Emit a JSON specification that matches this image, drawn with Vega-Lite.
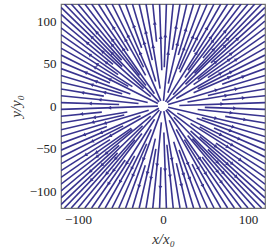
{
"$schema": "https://vega.github.io/schema/vega-lite/v6.json",
"width": 204, "height": 204,
"autosize": {"type": "none"},
"padding": {"left": 61, "top": 4, "right": 5, "bottom": 42},
"config": {"view": {"stroke": "#707070", "strokeWidth": 1.2}, "font": "Liberation Serif",
 "axis": {"grid": false, "domain": false, "ticks": false, "labelFont": "Liberation Serif", "labelFontSize": 13, "labelColor": "#222", "titleFont": "Liberation Serif", "titleFontSize": 15, "titleFontWeight": "normal", "titleFontStyle": "italic", "titleColor": "#333", "labelPadding": 5}},
"data": {"values": [
{"x":-4.6,"y":4.8,"x2":-116,"y2":120,"ax":-60.3,"ay":62.4},
{"x":-48.6,"y":54,"x2":-108,"y2":120,"ax":-78.3,"ay":87},
{"x":-20,"y":24,"x2":-100,"y2":120,"ax":-60,"ay":72},
{"x":-27.6,"y":36,"x2":-92,"y2":120,"ax":-59.8,"ay":78},
{"x":-10.1,"y":14.4,"x2":-84,"y2":120,"ax":-47,"ay":67.2},
{"x":-41,"y":64.8,"x2":-76,"y2":120,"ax":-58.5,"ay":92.4},
{"x":-20.4,"y":36,"x2":-68,"y2":120,"ax":-44.2,"ay":78},
{"x":-22.8,"y":45.6,"x2":-60,"y2":120,"ax":-41.4,"ay":82.8},
{"x":-2.6,"y":6,"x2":-52,"y2":120,"ax":-27,"ay":62.4},
{"x":-25.1,"y":68.4,"x2":-44,"y2":120,"ax":-34.5,"ay":94.2},
{"x":-8.6,"y":28.8,"x2":-36,"y2":120,"ax":-22.3,"ay":74.4},
{"x":-12.6,"y":54,"x2":-28,"y2":120,"ax":-20.3,"ay":87},
{"x":-3.4,"y":20.4,"x2":-20,"y2":120,"ax":-11.7,"ay":70.2},
{"x":-7.6,"y":75.6,"x2":-12,"y2":120,"ax":-9.8,"ay":97.8},
{"x":-1.4,"y":42,"x2":-4,"y2":120,"ax":-2.7,"ay":81},
{"x":1.5,"y":45.6,"x2":4,"y2":120,"ax":2.8,"ay":82.8},
{"x":0.6,"y":6,"x2":12,"y2":120,"ax":6.2,"ay":62.4},
{"x":11,"y":66,"x2":20,"y2":120,"ax":15.5,"ay":93},
{"x":6.2,"y":26.4,"x2":28,"y2":120,"ax":17.1,"ay":73.2},
{"x":18,"y":60,"x2":36,"y2":120,"ax":27,"ay":90},
{"x":5.7,"y":15.6,"x2":44,"y2":120,"ax":24.9,"ay":67.8},
{"x":18.7,"y":43.2,"x2":52,"y2":120,"ax":35.4,"ay":81.6},
{"x":19.8,"y":39.6,"x2":60,"y2":120,"ax":39.9,"ay":79.8},
{"x":36,"y":63.6,"x2":68,"y2":120,"ax":52,"ay":91.8},
{"x":3,"y":4.8,"x2":76,"y2":120,"ax":39.5,"ay":62.4},
{"x":29.4,"y":42,"x2":84,"y2":120,"ax":56.7,"ay":81},
{"x":25.8,"y":33.6,"x2":92,"y2":120,"ax":58.9,"ay":76.8},
{"x":47,"y":56.4,"x2":100,"y2":120,"ax":73.5,"ay":88.2},
{"x":11.9,"y":13.2,"x2":108,"y2":120,"ax":59.9,"ay":66.6},
{"x":37.1,"y":38.4,"x2":116,"y2":120,"ax":76.6,"ay":79.2},
{"x":26.4,"y":25.5,"x2":120,"y2":116,"ax":73.2,"ay":70.8},
{"x":56.4,"y":50.8,"x2":120,"y2":108,"ax":88.2,"ay":79.4},
{"x":4.8,"y":4,"x2":120,"y2":100,"ax":62.4,"ay":52},
{"x":40.8,"y":31.3,"x2":120,"y2":92,"ax":80.4,"ay":61.6},
{"x":36,"y":25.2,"x2":120,"y2":84,"ax":78,"ay":54.6},
{"x":52.8,"y":33.4,"x2":120,"y2":76,"ax":86.4,"ay":54.7},
{"x":15.6,"y":8.8,"x2":120,"y2":68,"ax":67.8,"ay":38.4},
{"x":40.8,"y":20.4,"x2":120,"y2":60,"ax":80.4,"ay":40.2},
{"x":36,"y":15.6,"x2":120,"y2":52,"ax":78,"ay":33.8},
{"x":69.6,"y":25.5,"x2":120,"y2":44,"ax":94.8,"ay":34.8},
{"x":6,"y":1.8,"x2":120,"y2":36,"ax":63,"ay":18.9},
{"x":52.8,"y":12.3,"x2":120,"y2":28,"ax":86.4,"ay":20.2},
{"x":28.8,"y":4.8,"x2":120,"y2":20,"ax":74.4,"ay":12.4},
{"x":69.6,"y":7,"x2":120,"y2":12,"ax":94.8,"ay":9.5},
{"x":19.2,"y":0.6,"x2":120,"y2":4,"ax":69.6,"ay":2.3},
{"x":49.2,"y":-1.6,"x2":120,"y2":-4,"ax":84.6,"ay":-2.8},
{"x":40.8,"y":-4.1,"x2":120,"y2":-12,"ax":80.4,"ay":-8},
{"x":73.2,"y":-12.2,"x2":120,"y2":-20,"ax":96.6,"ay":-16.1},
{"x":6,"y":-1.4,"x2":120,"y2":-28,"ax":62.4,"ay":-14.6},
{"x":45.6,"y":-13.7,"x2":120,"y2":-36,"ax":82.8,"ay":-24.8},
{"x":39.6,"y":-14.5,"x2":120,"y2":-44,"ax":79.8,"ay":-29.3},
{"x":60,"y":-26,"x2":120,"y2":-52,"ax":90,"ay":-39},
{"x":16.8,"y":-8.4,"x2":120,"y2":-60,"ax":68.4,"ay":-34.2},
{"x":43.2,"y":-24.5,"x2":120,"y2":-68,"ax":81.6,"ay":-46.2},
{"x":32.4,"y":-20.5,"x2":120,"y2":-76,"ax":76.2,"ay":-48.3},
{"x":62.4,"y":-43.7,"x2":120,"y2":-84,"ax":91.2,"ay":-63.8},
{"x":4.8,"y":-3.7,"x2":120,"y2":-92,"ax":62.4,"ay":-47.8},
{"x":43.2,"y":-36,"x2":120,"y2":-100,"ax":81.6,"ay":-68},
{"x":32.4,"y":-29.2,"x2":120,"y2":-108,"ax":76.2,"ay":-68.6},
{"x":52.8,"y":-51,"x2":120,"y2":-116,"ax":86.4,"ay":-83.5},
{"x":12.8,"y":-13.2,"x2":116,"y2":-120,"ax":64.4,"ay":-66.6},
{"x":34.6,"y":-38.4,"x2":108,"y2":-120,"ax":71.3,"ay":-79.2},
{"x":29,"y":-34.8,"x2":100,"y2":-120,"ax":64.5,"ay":-77.4},
{"x":46,"y":-60,"x2":92,"y2":-120,"ax":69,"ay":-90},
{"x":3.4,"y":-4.8,"x2":84,"y2":-120,"ax":43.7,"ay":-62.4},
{"x":25.1,"y":-39.6,"x2":76,"y2":-120,"ax":50.5,"ay":-79.8},
{"x":15.6,"y":-27.6,"x2":68,"y2":-120,"ax":41.8,"ay":-73.8},
{"x":34.2,"y":-68.4,"x2":60,"y2":-120,"ax":47.1,"ay":-94.2},
{"x":7.3,"y":-16.8,"x2":52,"y2":-120,"ax":29.6,"ay":-68.4},
{"x":18.9,"y":-51.6,"x2":44,"y2":-120,"ax":31.5,"ay":-85.8},
{"x":12.6,"y":-42,"x2":36,"y2":-120,"ax":24.3,"ay":-81},
{"x":15.7,"y":-67.2,"x2":28,"y2":-120,"ax":21.8,"ay":-93.6},
{"x":1,"y":-6,"x2":20,"y2":-120,"ax":10.5,"ay":-63},
{"x":4.6,"y":-45.6,"x2":12,"y2":-120,"ax":8.3,"ay":-82.8},
{"x":1,"y":-31.2,"x2":4,"y2":-120,"ax":2.5,"ay":-75.6},
{"x":-2.4,"y":-72,"x2":-4,"y2":-120,"ax":-3.2,"ay":-96},
{"x":-1.9,"y":-19.2,"x2":-12,"y2":-120,"ax":-7,"ay":-69.6},
{"x":-8.4,"y":-50.4,"x2":-20,"y2":-120,"ax":-14.2,"ay":-85.2},
{"x":-9,"y":-38.4,"x2":-28,"y2":-120,"ax":-18.5,"ay":-79.2},
{"x":-20.9,"y":-69.6,"x2":-36,"y2":-120,"ax":-28.4,"ay":-94.8},
{"x":-2.2,"y":-6,"x2":-44,"y2":-120,"ax":-23.1,"ay":-63},
{"x":-19.2,"y":-44.4,"x2":-52,"y2":-120,"ax":-35.6,"ay":-82.2},
{"x":-13.8,"y":-27.6,"x2":-60,"y2":-120,"ax":-36.9,"ay":-73.8},
{"x":-33.3,"y":-58.8,"x2":-68,"y2":-120,"ax":-50.7,"ay":-89.4},
{"x":-9.9,"y":-15.6,"x2":-76,"y2":-120,"ax":-42.9,"ay":-67.8},
{"x":-44.5,"y":-63.6,"x2":-84,"y2":-120,"ax":-64.3,"ay":-91.8},
{"x":-24.8,"y":-32.4,"x2":-92,"y2":-120,"ax":-58.4,"ay":-76.2},
{"x":-33,"y":-39.6,"x2":-100,"y2":-120,"ax":-66.5,"ay":-79.8},
{"x":-4.3,"y":-4.8,"x2":-108,"y2":-120,"ax":-56.2,"ay":-62.4},
{"x":-53.4,"y":-55.2,"x2":-116,"y2":-120,"ax":-84.7,"ay":-87.6},
{"x":-24,"y":-23.2,"x2":-120,"y2":-116,"ax":-72,"ay":-69.6},
{"x":-51.6,"y":-46.4,"x2":-120,"y2":-108,"ax":-85.8,"ay":-77.2},
{"x":-14.4,"y":-12,"x2":-120,"y2":-100,"ax":-67.2,"ay":-56},
{"x":-36,"y":-27.6,"x2":-120,"y2":-92,"ax":-78,"ay":-59.8},
{"x":-37.2,"y":-26,"x2":-120,"y2":-84,"ax":-78.6,"ay":-55},
{"x":-62.4,"y":-39.5,"x2":-120,"y2":-76,"ax":-91.2,"ay":-57.8},
{"x":-4.8,"y":-2.7,"x2":-120,"y2":-68,"ax":-62.4,"ay":-35.4},
{"x":-46.8,"y":-23.4,"x2":-120,"y2":-60,"ax":-83.4,"ay":-41.7},
{"x":-26.4,"y":-11.4,"x2":-120,"y2":-52,"ax":-73.2,"ay":-31.7},
{"x":-66,"y":-24.2,"x2":-120,"y2":-44,"ax":-93,"ay":-34.1},
{"x":-16.8,"y":-5,"x2":-120,"y2":-36,"ax":-68.4,"ay":-20.5},
{"x":-45.6,"y":-10.6,"x2":-120,"y2":-28,"ax":-82.8,"ay":-19.3},
{"x":-42,"y":-7,"x2":-120,"y2":-20,"ax":-81,"ay":-13.5},
{"x":-72,"y":-7.2,"x2":-120,"y2":-12,"ax":-96,"ay":-9.6},
{"x":-6,"y":-0.2,"x2":-120,"y2":-4,"ax":-63,"ay":-2.1},
{"x":-51.6,"y":1.7,"x2":-120,"y2":4,"ax":-85.8,"ay":2.9},
{"x":-28.8,"y":2.9,"x2":-120,"y2":12,"ax":-74.4,"ay":7.4},
{"x":-69.6,"y":11.6,"x2":-120,"y2":20,"ax":-94.8,"ay":15.8},
{"x":-18,"y":4.2,"x2":-120,"y2":28,"ax":-69,"ay":16.1},
{"x":-48,"y":14.4,"x2":-120,"y2":36,"ax":-84,"ay":25.2},
{"x":-38.4,"y":14.1,"x2":-120,"y2":44,"ax":-79.2,"ay":29},
{"x":-62.4,"y":27,"x2":-120,"y2":52,"ax":-91.2,"ay":39.5},
{"x":-6,"y":3,"x2":-120,"y2":60,"ax":-63,"ay":31.5},
{"x":-40.8,"y":23.1,"x2":-120,"y2":68,"ax":-80.4,"ay":45.6},
{"x":-36,"y":22.8,"x2":-120,"y2":76,"ax":-78,"ay":49.4},
{"x":-52.8,"y":37,"x2":-120,"y2":84,"ax":-86.4,"ay":60.5},
{"x":-14.4,"y":11,"x2":-120,"y2":92,"ax":-67.2,"ay":51.5},
{"x":-58.8,"y":49,"x2":-120,"y2":100,"ax":-89.4,"ay":74.5},
{"x":-22.8,"y":20.5,"x2":-120,"y2":108,"ax":-71.4,"ay":64.3},
{"x":-48,"y":46.4,"x2":-120,"y2":116,"ax":-84,"ay":81.2}
]},
"layer": [
 {"mark": {"type": "rule", "color": "#38338f", "strokeWidth": 1.6, "clip": true},
  "encoding": {
   "x": {"field": "x", "type": "quantitative", "scale": {"domain": [-120, 120], "nice": false}, "axis": {"values": [-100, 0, 100], "title": "x/x₀", "titlePadding": 5}},
   "y": {"field": "y", "type": "quantitative", "scale": {"domain": [-120, 120], "nice": false}, "axis": {"values": [-100, -50, 0, 50, 100], "title": "y/y₀", "titlePadding": 6}},
   "x2": {"field": "x2"}, "y2": {"field": "y2"}}},
 {"transform": [{"calculate": "atan2(-datum.ay, datum.ax) * 180 / PI", "as": "ang"}],
  "mark": {"type": "point", "shape": "triangle-right", "filled": true, "color": "#38338f", "size": 16, "opacity": 1, "clip": true},
  "encoding": {
   "x": {"field": "ax", "type": "quantitative"},
   "y": {"field": "ay", "type": "quantitative"},
   "angle": {"field": "ang", "type": "quantitative", "scale": null}}}
]
}
